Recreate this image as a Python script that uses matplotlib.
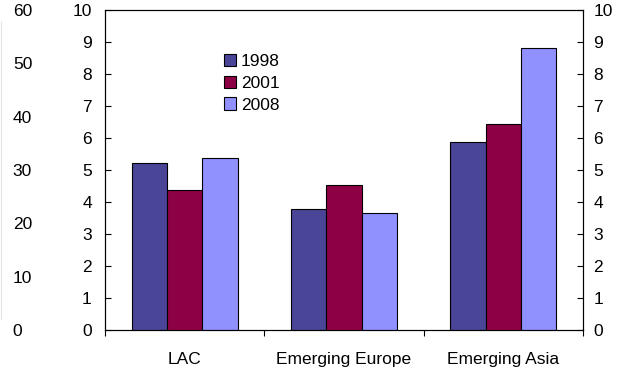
import matplotlib.pyplot as plt
import numpy as np

plt.rcParams['font.family'] = ['Liberation Sans', 'DejaVu Sans']

regions = ['LAC', 'Emerging Europe', 'Emerging Asia']
years = ['1998', '2001', '2008']
v1998 = [5.21, 3.78, 5.86]
v2001 = [4.37, 4.52, 6.43]
v2008 = [5.36, 3.65, 8.80]
colors = ['#4B4597', '#8E0045', '#9090FF']

left_ticks = [0, 10, 20, 30, 40, 50, 60]
main_ticks = list(range(0, 11))

fs = 12.5

fig = plt.figure(figsize=(6.23, 3.71), dpi=100)
ax = fig.add_axes([105/623, 41/371, 478/623, 320/371])

x = np.arange(len(regions))
w = 0.222
for i, vals in enumerate([v1998, v2001, v2008]):
    ax.bar(x + (i - 1) * w, vals, w, color=colors[i], edgecolor='black',
           linewidth=0.8, label=years[i], zorder=3)

ax.set_xlim(-0.5, 2.5)
ax.set_ylim(0, 10)
ax.set_yticks(main_ticks)
ax.set_xticks(x)
ax.set_xticklabels(regions)
ax.set_xticks([-0.5, 0.5, 1.5, 2.5], minor=True)
ax.tick_params(axis='x', which='major', length=0, pad=16, labelsize=fs)
ax.tick_params(axis='x', which='minor', length=4, direction='out', width=0.8)
ax.tick_params(axis='y', direction='in', length=4, width=0.8, pad=9.5, labelsize=fs)
for s in ax.spines.values():
    s.set_linewidth(0.8)

# right axis 0-10
axr = ax.twinx()
axr.set_ylim(0, 10)
axr.set_yticks(main_ticks)
axr.tick_params(axis='y', direction='in', length=4, width=0.8, pad=7.5, labelsize=fs)
axr.spines['right'].set_linewidth(0.8)

# far-left axis 0-60
axl = ax.twinx()
axl.set_ylim(0, 60)
axl.set_yticks(left_ticks)
axl.spines['right'].set_position(('axes', -0.2175))
axl.spines['right'].set_color('#e6e6e6')
axl.spines['right'].set_bounds(2, 58)
axl.tick_params(axis='y', length=0, pad=8.5, labelsize=fs)
for k in ['top', 'bottom', 'left']:
    axl.spines[k].set_visible(False)

leg = ax.legend(loc='upper left', bbox_to_anchor=(0.23, 0.89), frameon=False,
                fontsize=fs, handlelength=0.7, handleheight=0.7,
                handletextpad=0.3, labelspacing=0.38, borderpad=0)

fig.savefig('out.png', dpi=100)
